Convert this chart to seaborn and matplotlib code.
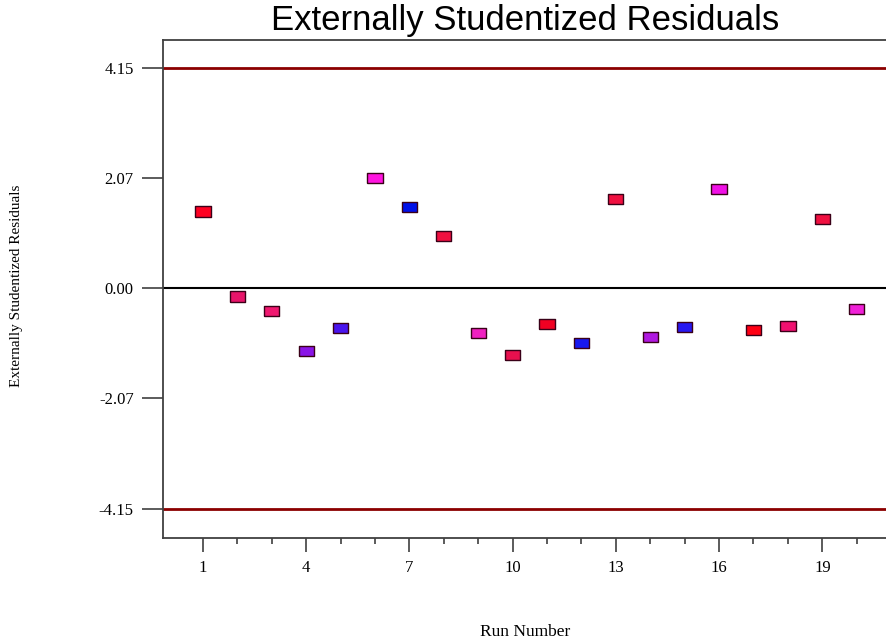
import pandas as pd
import matplotlib.pyplot as plt
import seaborn as sns

# Data
run_number = list(range(1, 21))
residuals = [1.44, -0.16, -0.43, -1.19, -0.76, 2.07, 1.53, 0.98, -0.84, -1.26,
             -0.68, -1.04, 1.68, -0.92, -0.73, 1.87, -0.79, -0.72, 1.30, -0.39]
point_colors = ['#ff0022', '#e8146a', '#f01870', '#8a14e6', '#4a14ee',
                '#ff14e0', '#0010e8', '#f01040', '#f020c0', '#e8104e',
                '#f00022', '#1818f0', '#f01040', '#b018e0', '#2818f0',
                '#f010e6', '#ff0014', '#f01070', '#f01040', '#f020d8']
limit = 4.15
y_ticks = [-4.15, -2.07, 0.00, 2.07, 4.15]
x_major = [1, 4, 7, 10, 13, 16, 19]

df = pd.DataFrame({'run': run_number, 'resid': residuals})
df['label'] = df['run'].astype(str)
palette = dict(zip(df['label'], point_colors))

sns.set_style("white")

fig = plt.figure(figsize=(8.87, 6.39), dpi=100)
ax = fig.add_axes([0.1838, 0.158, 0.8162, 0.7793])

# limit lines and zero line
ax.axhline(limit, color='#8b0000', lw=2, zorder=1)
ax.axhline(-limit, color='#8b0000', lw=2, zorder=1)
ax.axhline(0, color='black', lw=1.5, zorder=1)

# rectangle marker (wider than tall)
rect = [(-1.5, -1), (1.5, -1), (1.5, 1), (-1.5, 1), (-1.5, -1)]
sns.scatterplot(data=df, x='run', y='resid', hue='label', palette=palette,
                marker=rect, s=120, edgecolor='#3a0018', linewidth=1,
                legend=False, ax=ax, zorder=3)

ax.set_xlim(-0.16, 20.88)
ax.set_ylim(-4.705, 4.667)

ax.set_xticks(x_major)
ax.set_xticks(run_number, minor=True)
ax.set_xticklabels([str(v) for v in x_major], fontfamily='Liberation Serif',
                   fontsize=12, color='black')
ax.set_yticks(y_ticks)
ax.set_yticklabels(['%.2f' % v for v in y_ticks], fontfamily='Liberation Serif',
                   fontsize=12, color='black')

ax.tick_params(axis='x', which='major', direction='out', length=10, width=1.2,
               color='#404040', bottom=True, pad=6)
ax.tick_params(axis='x', which='minor', direction='out', length=4.5, width=1.2,
               color='#404040', bottom=True)
ax.tick_params(axis='y', which='major', direction='out', length=15, width=1.2,
               color='#404040', left=True, pad=6)

for side in ['left', 'bottom', 'top']:
    ax.spines[side].set_color('#404040')
    ax.spines[side].set_linewidth(1.3)
ax.spines['right'].set_visible(False)

ax.set_title("Externally Studentized Residuals", fontfamily='Liberation Sans',
             fontsize=25, color='black', pad=7)
ax.set_xlabel("Run Number", fontfamily='Liberation Serif', fontsize=12.5,
              color='black', va='center')
ax.set_ylabel("Externally Studentized Residuals", fontfamily='Liberation Serif',
              fontsize=11, color='black', va='center')
ax.xaxis.set_label_coords(0.50, -0.1888)
ax.yaxis.set_label_coords(-0.203, 0.506)

plt.savefig("out.png", dpi=100)
